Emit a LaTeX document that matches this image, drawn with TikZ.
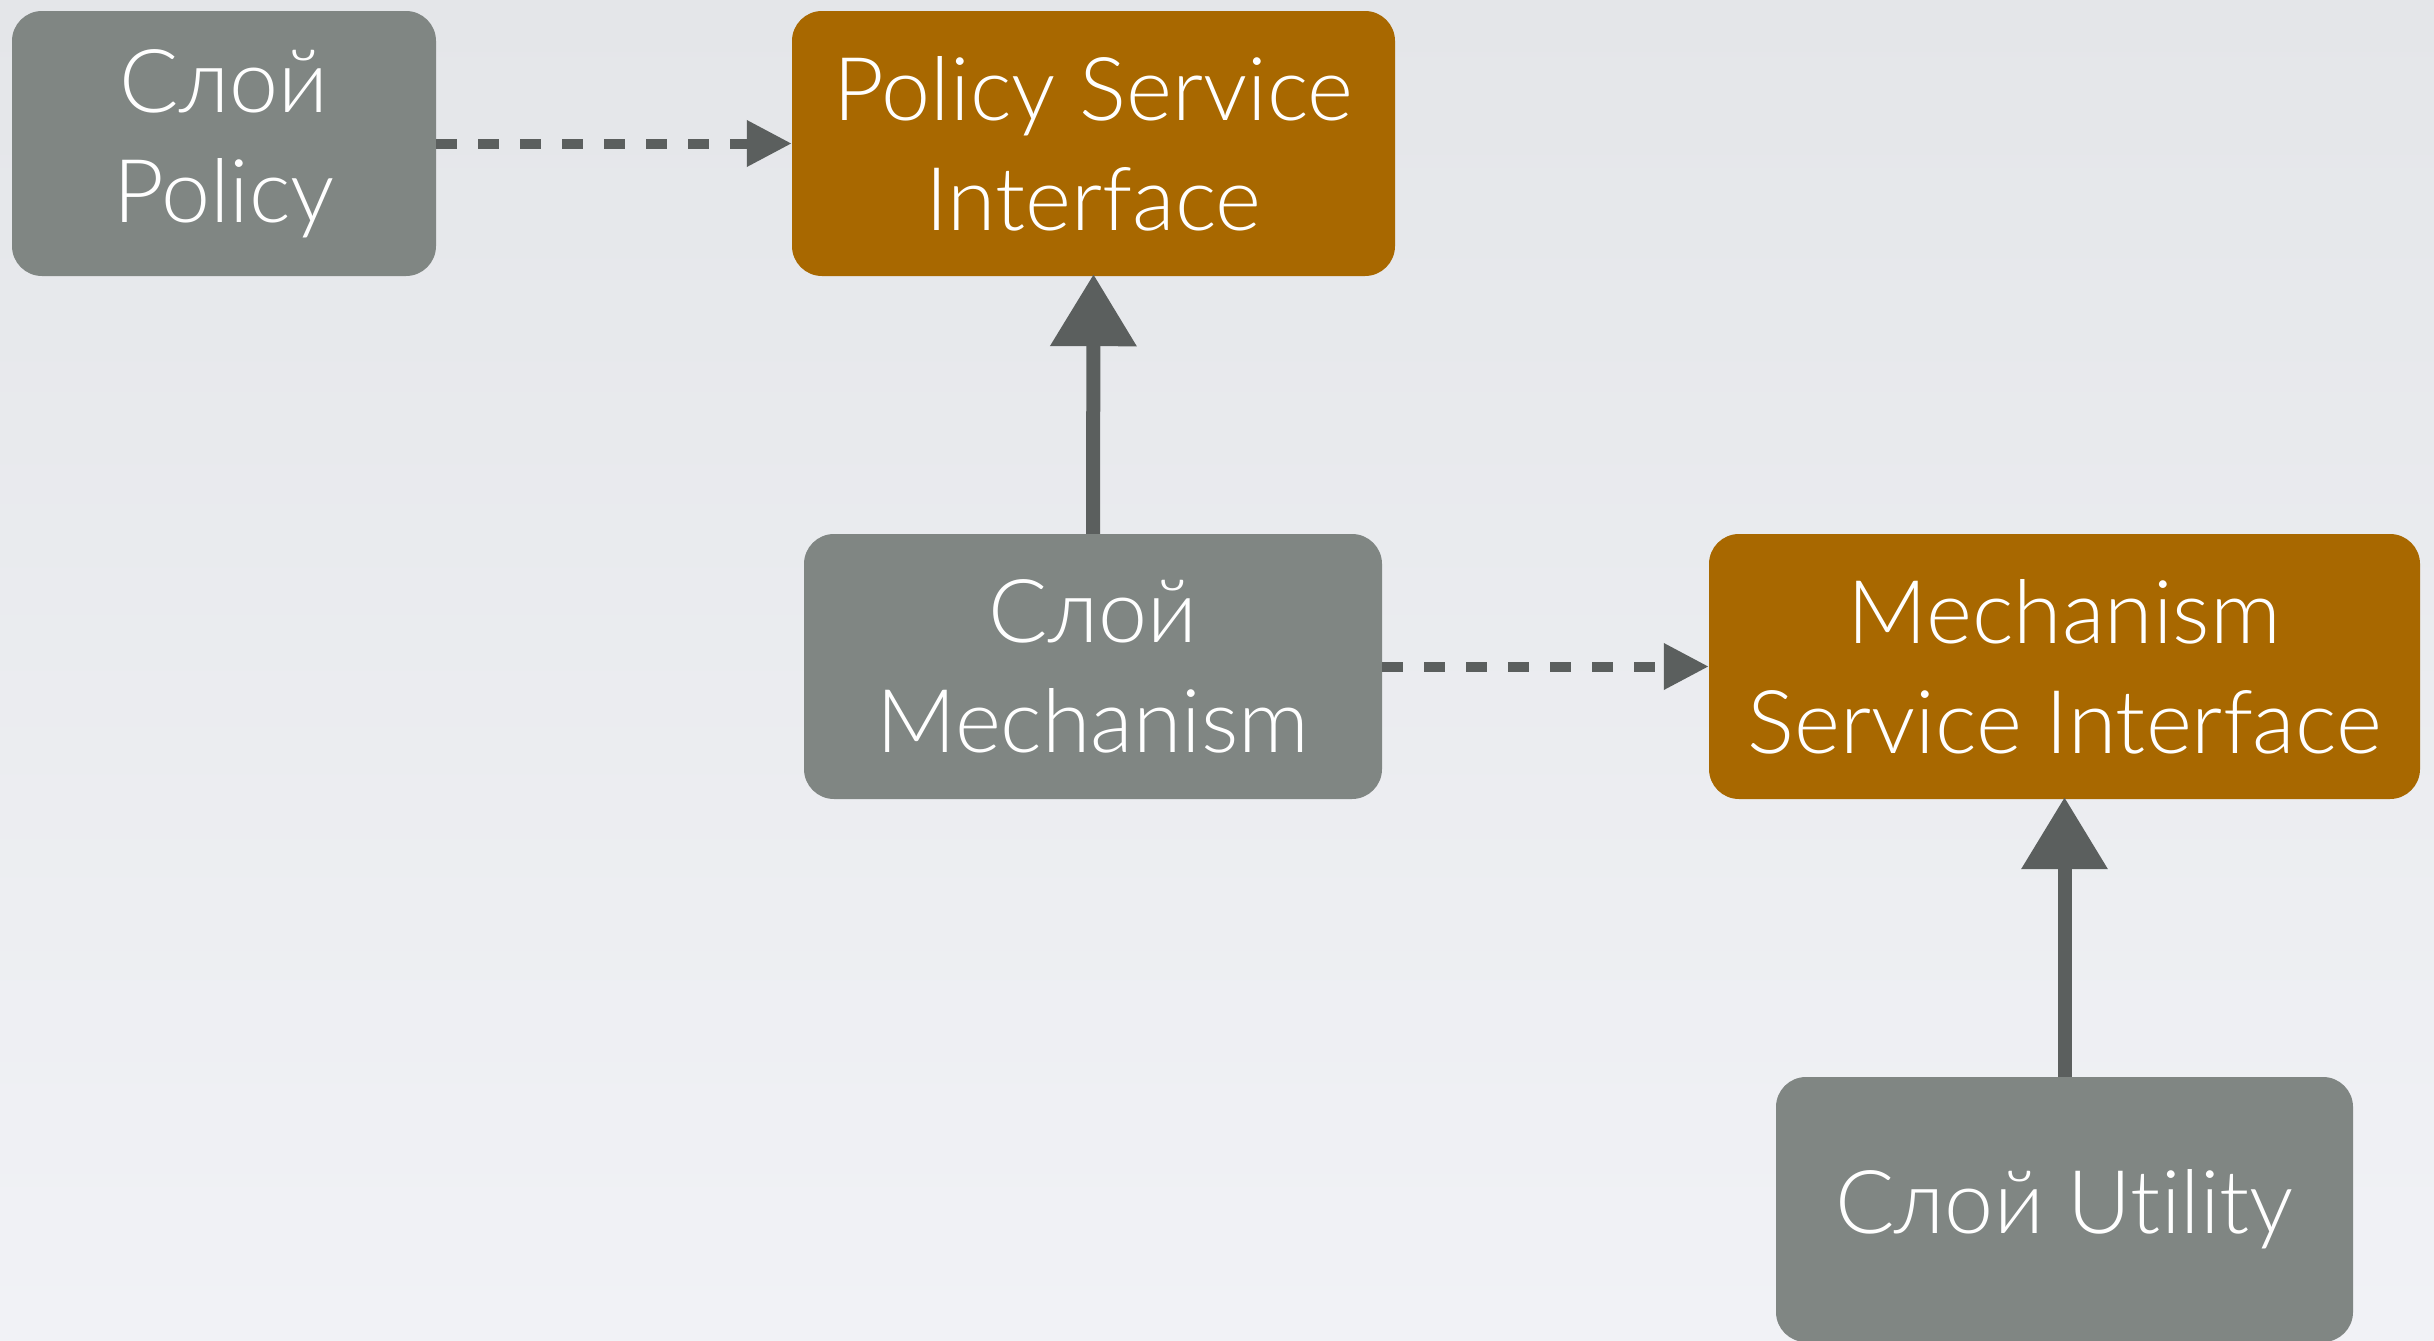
\documentclass[tikz,border=0pt]{standalone}
\usepackage{fontspec}
\setmainfont{Lato Light}[Ligatures={NoCommon}]
\usetikzlibrary{arrows.meta}
\definecolor{bgtop}{HTML}{E4E6E9}
\definecolor{bgbot}{HTML}{F1F2F6}
\definecolor{boxgrey}{HTML}{808683}
\definecolor{boxorange}{HTML}{A86800}
\definecolor{arrowgrey}{HTML}{5B5F5E}
\tikzset{
  layerbox/.style={rectangle, rounded corners=30pt, fill=boxgrey, text=white, align=center, inner sep=0pt, font=\fontsize{88}{110}\selectfont},
  ifacebox/.style={layerbox, fill=boxorange},
  depline/.style={draw=arrowgrey, line width=10pt, dash pattern=on 21pt off 21pt, -{Triangle[length=45pt,width=44pt]}},
  implline/.style={draw=arrowgrey, line width=14pt, -{Triangle[length=72pt,width=83pt]}, shorten >=-2pt}
}
\begin{document}
\begin{tikzpicture}[x=1pt,y=-1pt]
\shade[top color=bgtop,bottom color=bgbot] (0,0) rectangle (2434,1341);
\useasboundingbox (0,0) rectangle (2434,1341);
\node[layerbox, minimum width=424pt, minimum height=265pt] (policy) at (224,143.5) {Слой\\Policy};
\node[ifacebox, minimum width=603pt, minimum height=265pt] (psi) at (1093.5,143.5) {Policy Service\\Interface};
\node[layerbox, minimum width=578pt, minimum height=265pt] (mech) at (1093,666.5) {Слой\\Mechanism};
\node[ifacebox, minimum width=711pt, minimum height=265pt] (msi) at (2064.5,666.5) {Mechanism\\Service Interface};
\node[layerbox, minimum width=577pt, minimum height=265pt] (util) at (2064.5,1209.5) {Слой Utility};
\draw[depline] (policy.east) -- (psi.west);
\draw[depline] (mech.east) -- (msi.west);
\draw[implline] (mech.north) -- (psi.south);
\draw[implline] (util.north) -- (msi.south);
\end{tikzpicture}
\end{document}
